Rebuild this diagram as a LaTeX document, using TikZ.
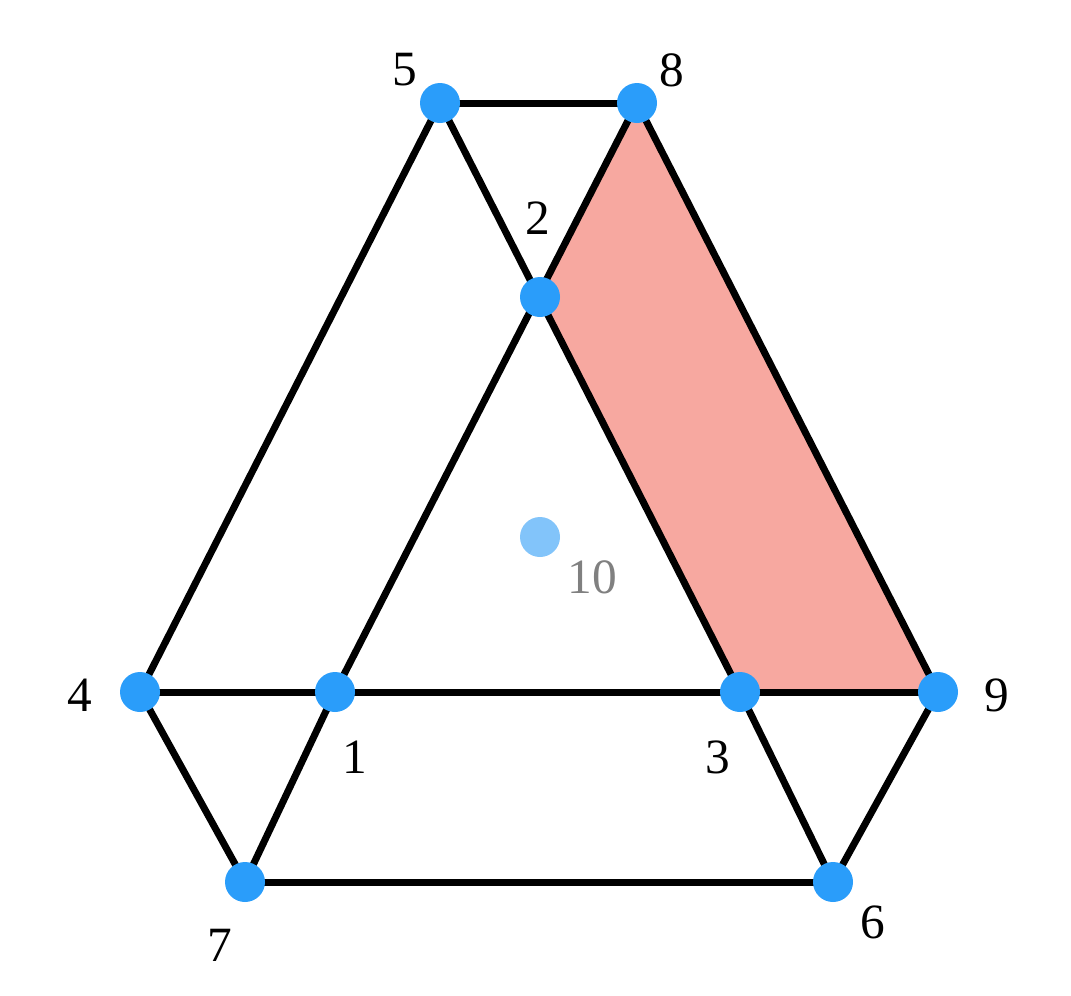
\documentclass[tikz,border=0pt]{standalone}
\usepackage{fontspec}
\setmainfont{Liberation Serif}
\definecolor{dotblue}{RGB}{42,157,250}
\definecolor{dotpale}{RGB}{130,196,250}
\definecolor{salmon}{RGB}{247,168,160}
\tikzset{every picture/.style={line width=5.25pt},
  vtx/.style={circle,fill=dotblue,inner sep=0pt,minimum size=30pt},
  lbl/.style={font=\fontsize{37}{40}\selectfont,inner sep=0pt}}
\begin{document}
\begin{tikzpicture}[x=0.75pt,y=0.75pt,yscale=-1,xscale=1]
\useasboundingbox (0,0) rectangle (1071,996);
%vertices
\coordinate (c1) at (335,692);
\coordinate (c2) at (540,297);
\coordinate (c3) at (740,692);
\coordinate (c4) at (140,692);
\coordinate (c5) at (440,103);
\coordinate (c6) at (833,882);
\coordinate (c7) at (245,882);
\coordinate (c8) at (637,103);
\coordinate (c9) at (938,692);
%shaded face
\fill [salmon] (c2) -- (c8) -- (c9) -- (c3) -- cycle;
%edges
\draw (c5) -- (c8);
\draw (c5) -- (c4);
\draw (c5) -- (c3);
\draw (c8) -- (c1);
\draw (c8) -- (c9);
\draw (c4) -- (c9);
\draw (c4) -- (c7);
\draw (c7) -- (c1);
\draw (c7) -- (c6);
\draw (c3) -- (c6);
\draw (c6) -- (c9);
%dots
\foreach \i in {1,...,9} \node [vtx] (v\i) at (c\i) {};
\node [vtx,fill=dotpale] (v10) at (540,537) {};
%labels
\node [lbl] (l1) at (355,757) {1};
\node [lbl] (l2) at (538,218) {2};
\node [lbl] (l3) at (718,757) {3};
\node [lbl] (l4) at (80,695) {4};
\node [lbl] (l5) at (405,70) {5};
\node [lbl] (l6) at (873,922) {6};
\node [lbl] (l7) at (220,945) {7};
\node [lbl] (l8) at (672,70) {8};
\node [lbl] (l9) at (997,695) {9};
\node [lbl,text=gray] (l10) at (592,577) {10};
\end{tikzpicture}
\end{document}
